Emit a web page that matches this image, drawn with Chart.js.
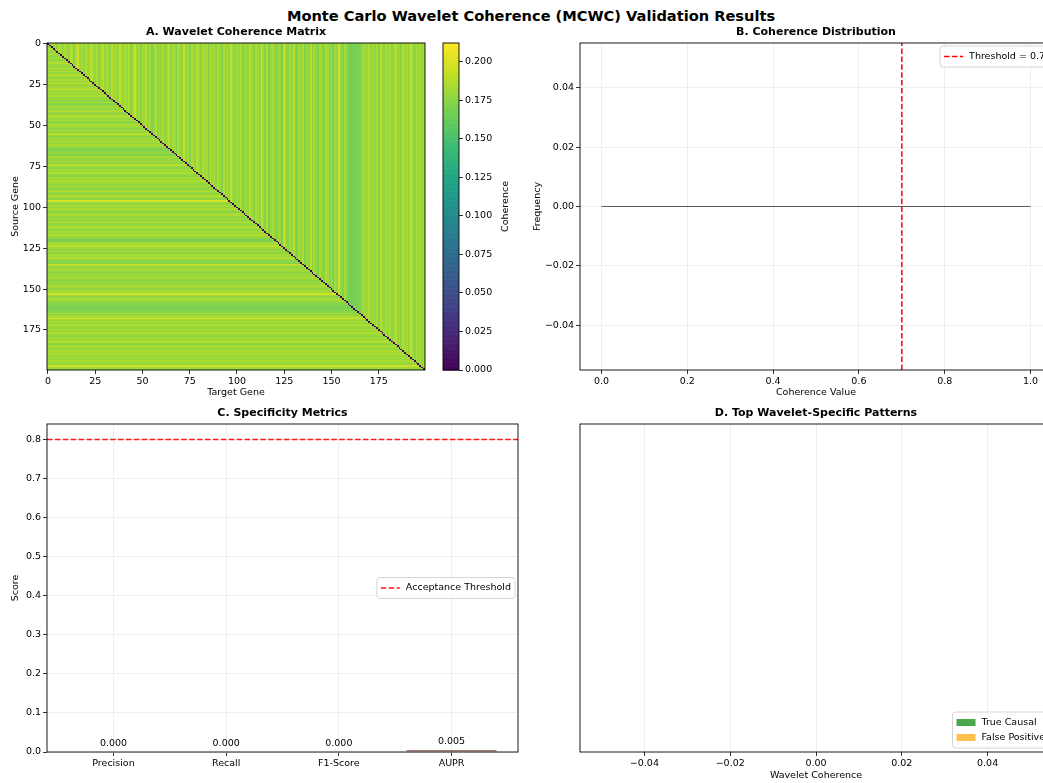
<!DOCTYPE html>
<html>
<head>
<meta charset="utf-8">
<script src="https://cdn.jsdelivr.net/npm/chart.js@4.4.0/dist/chart.umd.min.js"></script>
<style>
body { margin: 0; width: 1043px; height: 783px; overflow: hidden; background: #fff; position: relative; }
canvas { position: absolute; }
#title { position: absolute; left: 0; top: 7px; width: 1062px; text-align: center; font: bold 14.6px "DejaVu Sans"; color: #000; }
</style>
</head>
<body>
<div id="title">Monte Carlo Wavelet Coherence (MCWC) Validation Results</div>
<canvas id="cA" width="440" height="380" style="left:0;top:20px"></canvas>
<canvas id="cBar" width="100" height="380" style="left:430px;top:20px"></canvas>
<canvas id="cB" width="530" height="380" style="left:530px;top:20px"></canvas>
<canvas id="cC" width="530" height="383" style="left:0;top:400px"></canvas>
<canvas id="cD" width="530" height="383" style="left:530px;top:400px"></canvas>
<script>
// A. coherence matrix: upper triangle follows target gene (column), lower follows source gene (row)
const colCoherence = [
0.185,0.180,0.190,0.178,0.183,0.176,0.188,0.182,0.179,0.186,0.181,0.177,0.190,0.184,0.175,0.188,0.196,0.180,0.183,0.178,
0.186,0.181,0.175,0.192,0.184,0.179,0.187,0.173,0.183,0.190,0.178,0.185,0.182,0.176,0.189,0.181,0.184,0.178,0.193,0.180,
0.176,0.185,0.180,0.188,0.174,0.183,0.195,0.179,0.182,0.172,0.186,0.180,0.190,0.177,0.184,0.170,0.181,0.187,0.176,0.183,
0.179,0.186,0.174,0.182,0.190,0.177,0.184,0.180,0.172,0.188,0.181,0.176,0.194,0.179,0.183,0.171,0.186,0.180,0.177,0.189,
0.182,0.175,0.187,0.180,0.184,0.173,0.190,0.178,0.183,0.176,0.186,0.181,0.172,0.188,0.179,0.184,0.177,0.192,0.180,0.174,
0.183,0.179,0.187,0.172,0.185,0.180,0.176,0.189,0.182,0.174,0.186,0.180,0.177,0.197,0.183,0.175,0.188,0.170,0.181,0.185,
0.178,0.172,0.186,0.181,0.168,0.195,0.180,0.174,0.184,0.177,0.189,0.175,0.170,0.183,0.178,0.186,0.172,0.181,0.176,0.190,
0.174,0.183,0.179,0.171,0.186,0.178,0.173,0.188,0.180,0.175,0.184,0.170,0.182,0.177,0.196,0.179,0.172,0.185,0.176,0.170,
0.169,0.168,0.170,0.169,0.171,0.173,0.178,0.184,0.175,0.181,0.187,0.176,0.182,0.178,0.185,0.173,0.189,0.180,0.176,0.184,
0.179,0.186,0.174,0.183,0.190,0.177,0.182,0.175,0.188,0.180,0.184,0.178,0.193,0.181,0.176,0.186,0.180,0.183,0.178,0.185];
const rowCoherence = [
0.180,0.184,0.178,0.186,0.182,0.177,0.188,0.181,0.179,0.185,0.176,0.183,0.190,0.180,0.178,0.186,0.181,0.184,0.177,0.189,
0.182,0.179,0.185,0.176,0.188,0.181,0.178,0.184,0.195,0.180,0.183,0.177,0.186,0.179,0.182,0.175,0.187,0.172,0.180,0.184,
0.178,0.186,0.181,0.176,0.189,0.183,0.179,0.185,0.174,0.182,0.187,0.180,0.176,0.184,0.178,0.190,0.181,0.175,0.186,0.180,
0.183,0.177,0.185,0.179,0.172,0.170,0.176,0.183,0.171,0.186,0.180,0.178,0.184,0.176,0.189,0.181,0.175,0.183,0.179,0.186,
0.180,0.176,0.184,0.178,0.187,0.181,0.175,0.183,0.179,0.172,0.185,0.180,0.177,0.188,0.182,0.176,0.198,0.181,0.178,0.184,
0.179,0.186,0.180,0.175,0.183,0.188,0.177,0.181,0.174,0.185,0.180,0.178,0.186,0.182,0.176,0.184,0.179,0.187,0.181,0.175,
0.170,0.173,0.182,0.186,0.196,0.180,0.178,0.184,0.176,0.183,0.179,0.187,0.181,0.175,0.174,0.197,0.182,0.178,0.185,0.180,
0.176,0.184,0.179,0.187,0.181,0.175,0.183,0.178,0.186,0.180,0.177,0.184,0.179,0.198,0.182,0.176,0.185,0.180,0.178,0.174,
0.171,0.170,0.172,0.170,0.175,0.181,0.178,0.185,0.199,0.180,0.183,0.177,0.186,0.181,0.179,0.184,0.178,0.187,0.180,0.176,
0.183,0.179,0.197,0.181,0.176,0.185,0.180,0.178,0.186,0.182,0.190,0.179,0.184,0.177,0.185,0.181,0.179,0.195,0.182,0.180];
const geneTicks = [0, 25, 50, 75, 100, 125, 150, 175];
const colorMax = 0.2123;
const cbarTicks = [0, 0.025, 0.05, 0.075, 0.1, 0.125, 0.15, 0.175, 0.2];

// B. coherence distribution (empty histogram)
const coherenceBins = [0, 1];
const coherenceFreq = [0, 0];
const coherenceThreshold = 0.7;
const coherenceTicks = [0, 0.2, 0.4, 0.6, 0.8, 1.0];
const freqTicks = [-0.04, -0.02, 0, 0.02, 0.04];

// C. specificity metrics
const metricNames = ['Precision', 'Recall', 'F1-Score', 'AUPR'];
const metricScores = [0.000, 0.000, 0.000, 0.005];
const scoreTicks = [0, 0.1, 0.2, 0.3, 0.4, 0.5, 0.6, 0.7, 0.8];
const acceptanceThreshold = 0.8;

// D. top patterns (nothing found)
const trueCausal = [];
const falsePositive = [];
const patternTicks = [-0.04, -0.02, 0, 0.02, 0.04];

const FS = 9.5;
Chart.defaults.font.family = 'DejaVu Sans';
Chart.defaults.font.size = FS;
Chart.defaults.color = '#000';

const viridisStops = ['#440154','#482475','#414487','#355f8d','#2a788e','#21918c','#22a884','#44bf70','#7ad151','#bddf26','#fde725']
	.map(h => [parseInt(h.slice(1,3),16), parseInt(h.slice(3,5),16), parseInt(h.slice(5,7),16)]);
function viridis(t) {
	t = Math.max(0, Math.min(1, t)) * 10;
	const k = Math.min(9, Math.floor(t)), f = t - k;
	const a = viridisStops[k], b = viridisStops[k + 1];
	return [0, 1, 2].map(c => Math.round(a[c] + (b[c] - a[c]) * f));
}
function cellValue(i, j) {
	if (i === j) return 0;
	return j > i ? colCoherence[j] : rowCoherence[i];
}
function minusFmt(d) {
	return v => (v < 0 ? '\u2212' : '') + Math.abs(v).toFixed(d);
}

function axis(o) {
	return {
		type: 'linear', min: o.min, max: o.max, reverse: !!o.reverse, position: o.position,
		offset: false,
		display: true,
		afterBuildTicks: s => { s.ticks = o.ticks.map(v => ({ value: v })); },
		afterFit: s => { if (s.isHorizontal()) s.height = o.size; else s.width = o.size; },
		grid: { display: o.grid !== 'none', drawOnChartArea: !!o.grid && o.grid !== 'none', offset: false, color: '#ebebeb', lineWidth: 0.8,
			tickLength: 4, tickColor: '#000', tickWidth: 0.8 },
		border: { display: false },
		ticks: { display: !o.noLabels, padding: 2, color: '#000', font: { size: FS }, autoSkip: false, maxRotation: 0, callback: o.fmt },
		title: { display: !!o.title, text: o.title, font: { size: FS }, color: '#000', padding: o.titlePad || { top: 2, bottom: 1.5 } }
	};
}

const framePlugin = {
	id: 'frame',
	afterDraw(chart) {
		const { ctx, chartArea: a } = chart;
		ctx.save();
		ctx.strokeStyle = '#000';
		ctx.lineWidth = 0.9;
		ctx.strokeRect(a.left, a.top, a.right - a.left, a.bottom - a.top);
		ctx.restore();
	}
};
const titlePlugin = {
	id: 'panelTitle',
	afterDraw(chart, args, opts) {
		if (!opts.text) return;
		const { ctx, chartArea: a } = chart;
		ctx.save();
		ctx.font = 'bold 11px "DejaVu Sans"';
		ctx.fillStyle = '#000';
		ctx.textAlign = 'center';
		ctx.textBaseline = 'middle';
		ctx.fillText(opts.text, (a.left + a.right) / 2, a.top - 10.5);
		ctx.restore();
	}
};
// matplotlib-like legend box built from the labelled datasets
const boxLegend = {
	id: 'boxLegend',
	afterDraw(chart, args, opts) {
		if (!opts.where) return;
		const items = chart.data.datasets.filter(d => d.label && !d.hideLegend);
		const { ctx, chartArea: a } = chart;
		ctx.save();
		ctx.font = FS + 'px "DejaVu Sans"';
		const pad = 4, sample = 19, gap = 6, lineH = 15;
		const tw = Math.max(...items.map(d => ctx.measureText(d.label).width));
		const w = pad * 2 + sample + gap + tw, h = pad * 2 + lineH * items.length - 2;
		const x = a.right - 3 - w;
		let y = a.top + 3;
		if (opts.where === 'lower right') y = a.bottom - 4 - h;
		if (opts.where === 'center right') y = (a.top + a.bottom) / 2 - h / 2;
		ctx.fillStyle = 'rgba(255,255,255,0.8)';
		ctx.strokeStyle = '#d6d6d6';
		ctx.lineWidth = 1;
		ctx.beginPath();
		ctx.roundRect(x, y, w, h, 3);
		ctx.fill();
		ctx.stroke();
		items.forEach((d, i) => {
			const cy = y + pad + lineH * i + lineH / 2 - 1;
			if ((d.type || chart.config.type) === 'line') {
				ctx.strokeStyle = d.borderColor;
				ctx.lineWidth = d.borderWidth;
				ctx.setLineDash(d.borderDash || []);
				ctx.beginPath();
				ctx.moveTo(x + pad, cy);
				ctx.lineTo(x + pad + sample, cy);
				ctx.stroke();
				ctx.setLineDash([]);
			} else {
				ctx.fillStyle = d.backgroundColor;
				ctx.fillRect(x + pad, cy - 3.5, sample, 7);
			}
			ctx.fillStyle = '#000';
			ctx.textBaseline = 'middle';
			ctx.textAlign = 'left';
			ctx.fillText(d.label, x + pad + sample + gap, cy);
		});
		ctx.restore();
	}
};

// heat map cells are drawn into a 200x200 image placed by the chart scales
const heatPlugin = {
	id: 'heat',
	beforeDatasetsDraw(chart) {
		const n = colCoherence.length;
		const off = document.createElement('canvas');
		off.width = n; off.height = n;
		const octx = off.getContext('2d');
		const img = octx.createImageData(n, n);
		for (let i = 0; i < n; i++) {
			for (let j = 0; j < n; j++) {
				const c = viridis(cellValue(i, j) / colorMax);
				const p = (i * n + j) * 4;
				img.data[p] = c[0]; img.data[p + 1] = c[1]; img.data[p + 2] = c[2]; img.data[p + 3] = 255;
			}
		}
		octx.putImageData(img, 0, 0);
		const xs = chart.scales.x, ys = chart.scales.y;
		const x0 = xs.getPixelForValue(-0.5), x1 = xs.getPixelForValue(n - 0.5);
		const y0 = ys.getPixelForValue(-0.5), y1 = ys.getPixelForValue(n - 0.5);
		const ctx = chart.ctx;
		ctx.save();
		ctx.imageSmoothingEnabled = false;
		ctx.drawImage(off, x0, y0, x1 - x0, y1 - y0);
		ctx.restore();
	}
};
const cbarPlugin = {
	id: 'cbar',
	beforeDatasetsDraw(chart) {
		const { ctx, chartArea: a } = chart;
		const ys = chart.scales.y;
		const steps = 256;
		for (let k = 0; k < steps; k++) {
			const v0 = colorMax * k / steps, v1 = colorMax * (k + 1) / steps;
			const c = viridis((k + 0.5) / steps);
			const p0 = ys.getPixelForValue(v0), p1 = ys.getPixelForValue(v1);
			ctx.fillStyle = 'rgb(' + c.join(',') + ')';
			ctx.fillRect(a.left, p1, a.right - a.left, p0 - p1 + 0.6);
		}
		ctx.save();
		ctx.translate(a.right + 47, (a.top + a.bottom) / 2);
		ctx.rotate(-Math.PI / 2);
		ctx.font = FS + 'px "DejaVu Sans"';
		ctx.fillStyle = '#000';
		ctx.textAlign = 'center';
		ctx.textBaseline = 'middle';
		ctx.fillText('Coherence', 0, 0);
		ctx.restore();
	}
};
const barLabels = {
	id: 'barLabels',
	afterDatasetsDraw(chart) {
		const meta = chart.getDatasetMeta(0);
		const ys = chart.scales.y, ctx = chart.ctx;
		ctx.save();
		ctx.font = FS + 'px "DejaVu Sans"';
		ctx.fillStyle = '#000';
		ctx.textAlign = 'center';
		ctx.textBaseline = 'bottom';
		meta.data.forEach((el, i) => {
			ctx.fillText(metricScores[i].toFixed(3), el.x, ys.getPixelForValue(metricScores[i] + 0.01));
		});
		ctx.restore();
	}
};

const base = { responsive: false, animation: false, events: [] };

// A
new Chart(document.getElementById('cA'), {
	type: 'scatter',
	data: { datasets: [{ data: [] }] },
	options: Object.assign({}, base, {
		layout: { padding: { top: 23, right: 15, left: 0, bottom: 0 } },
		plugins: { legend: { display: false }, tooltip: { enabled: false }, panelTitle: { text: 'A. Wavelet Coherence Matrix' } },
		scales: {
			x: axis({ min: -0.5, max: 199.5, ticks: geneTicks, size: 30, title: 'Target Gene', fmt: v => String(v) }),
			y: axis({ min: -0.5, max: 199.5, reverse: true, ticks: geneTicks, size: 47, title: 'Source Gene', titlePad: { top: 9.4, bottom: 0 }, fmt: v => String(v) })
		}
	}),
	plugins: [heatPlugin, framePlugin, titlePlugin]
});

// colour bar
const cbarY = axis({ min: 0, max: colorMax, position: 'right', ticks: cbarTicks, size: 40, fmt: v => v.toFixed(3) });
new Chart(document.getElementById('cBar'), {
	type: 'scatter',
	data: { datasets: [{ data: [] }] },
	options: Object.assign({}, base, {
		layout: { padding: { top: 23, left: 13, right: 31, bottom: 30 } },
		plugins: { legend: { display: false }, tooltip: { enabled: false } },
		scales: {
			x: { type: 'linear', display: false, min: 0, max: 1 },
			y: cbarY
		}
	}),
	plugins: [cbarPlugin, framePlugin]
});

// B
new Chart(document.getElementById('cB'), {
	type: 'line',
	data: {
		datasets: [
			{ label: 'hist', hideLegend: true, data: coherenceBins.map((b, i) => ({ x: b, y: coherenceFreq[i] })),
				borderColor: '#595959', borderWidth: 1, pointRadius: 0 },
			{ label: 'Threshold = ' + coherenceThreshold, data: [{ x: coherenceThreshold, y: -0.055 }, { x: coherenceThreshold, y: 0.055 }],
				borderColor: '#ff0000', borderWidth: 1.5, borderDash: [5.5, 2.4], pointRadius: 0 }
		]
	},
	options: Object.assign({}, base, {
		layout: { padding: { top: 23, right: 8, left: 0, bottom: 0 } },
		plugins: { legend: { display: false }, tooltip: { enabled: false }, panelTitle: { text: 'B. Coherence Distribution' }, boxLegend: { where: 'upper right' } },
		scales: {
			x: axis({ min: -0.05, max: 1.05, ticks: coherenceTicks, size: 30, grid: true, title: 'Coherence Value', fmt: v => v.toFixed(1) }),
			y: axis({ min: -0.055, max: 0.055, ticks: freqTicks, size: 50, grid: true, title: 'Frequency', titlePad: { top: 1.4, bottom: 0 }, fmt: minusFmt(2) })
		}
	}),
	plugins: [framePlugin, titlePlugin, boxLegend]
});

// C
const metricColors = ['rgba(46,134,171,0.7)', 'rgba(162,59,114,0.7)', 'rgba(241,143,1,0.7)', 'rgba(199,62,29,0.7)'];
new Chart(document.getElementById('cC'), {
	type: 'bar',
	data: {
		datasets: [
			{ label: 'scores', hideLegend: true, data: metricScores.map((v, i) => ({ x: i, y: v })),
				backgroundColor: metricColors, borderColor: 'rgba(0,0,0,0.8)', borderWidth: 0.5, borderSkipped: false,
				categoryPercentage: 1, barPercentage: 0.8 },
			{ type: 'line', label: 'Acceptance Threshold', data: [{ x: -0.59, y: acceptanceThreshold }, { x: 3.59, y: acceptanceThreshold }],
				borderColor: '#ff1a1a', borderWidth: 1.5, borderDash: [5.5, 2.4], pointRadius: 0 }
		]
	},
	options: Object.assign({}, base, {
		layout: { padding: { top: 24, right: 12, left: 0, bottom: 0 } },
		plugins: { legend: { display: false }, tooltip: { enabled: false }, panelTitle: { text: 'C. Specificity Metrics' }, boxLegend: { where: 'center right' } },
		scales: {
			x: axis({ min: -0.59, max: 3.59, ticks: [0, 1, 2, 3], size: 31, grid: true, fmt: v => metricNames[v] }),
			y: axis({ min: 0, max: 0.84, ticks: scoreTicks, size: 47, grid: true, title: 'Score', titlePad: { top: 9.4, bottom: 0 }, fmt: v => v.toFixed(1) })
		}
	}),
	plugins: [framePlugin, titlePlugin, boxLegend, barLabels]
});

// D
const patternY = axis({ min: 0, max: 1, ticks: [], size: 50, grid: 'none', noLabels: true });
new Chart(document.getElementById('cD'), {
	type: 'bar',
	data: {
		datasets: [
			{ label: 'True Causal', data: trueCausal, backgroundColor: 'rgba(0,128,0,0.7)' },
			{ label: 'False Positive', data: falsePositive, backgroundColor: 'rgba(255,165,0,0.7)' }
		]
	},
	options: Object.assign({}, base, {
		indexAxis: 'y',
		layout: { padding: { top: 24, right: 8, left: 0, bottom: 0 } },
		plugins: { legend: { display: false }, tooltip: { enabled: false }, panelTitle: { text: 'D. Top Wavelet-Specific Patterns' }, boxLegend: { where: 'lower right' } },
		scales: {
			x: axis({ min: -0.055, max: 0.055, ticks: patternTicks, size: 31, grid: true, title: 'Wavelet Coherence', fmt: minusFmt(2) }),
			y: patternY
		}
	}),
	plugins: [framePlugin, titlePlugin, boxLegend]
});
</script>
</body>
</html>
